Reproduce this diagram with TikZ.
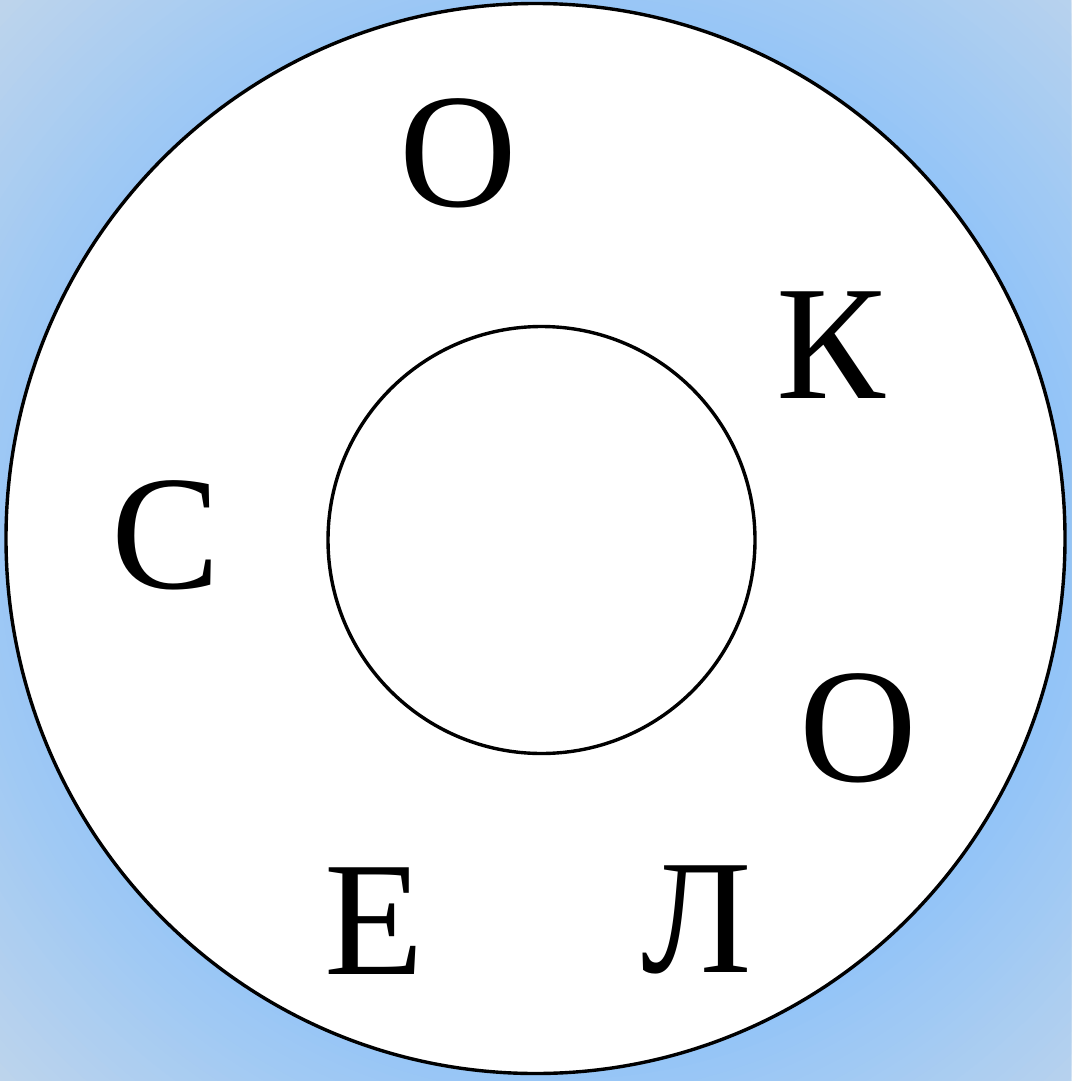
\documentclass[tikz,border=0pt]{standalone}
\usepackage{fontspec}
\setmainfont{Liberation Serif}
\definecolor{bgA}{HTML}{BDD4EC}
\definecolor{bgB}{HTML}{88C0FA}
\tikzset{
  letter/.style={inner sep=0pt, font=\fontsize{163}{170}\selectfont},
  ring/.style={draw=black, line width=3.4pt, fill=white}
}
\begin{document}
\begin{tikzpicture}[x=1pt,y=-1pt]
\useasboundingbox (0,0) rectangle (1071,1081);
\begin{scope}
\clip (0,0) rectangle (1071,1081);
\fill[bgA] (0,0) rectangle (1071,1081);
\foreach \r in {790,782,...,430}{
  \pgfmathtruncatemacro\t{max(0,min(100,(\r-440)/3.4))}
  \fill[bgA!\t!bgB] (565,545) circle[radius=\r];
}
\end{scope}
\path[ring] (535.5,538.5) ellipse[x radius=529.5, y radius=535];
\path[ring] (541.5,540) circle[radius=213.5];
\node[letter] (o1) at (458,153) {О};
\node[letter] (k) at (831,345) {К};
\node[letter] (s) at (166,535) {С};
\node[letter] (o2) at (858,728) {О};
\node[letter] (e) at (374,921) {Е};
\node[letter] (l) at (697,920) {Л};
\end{tikzpicture}
\end{document}
